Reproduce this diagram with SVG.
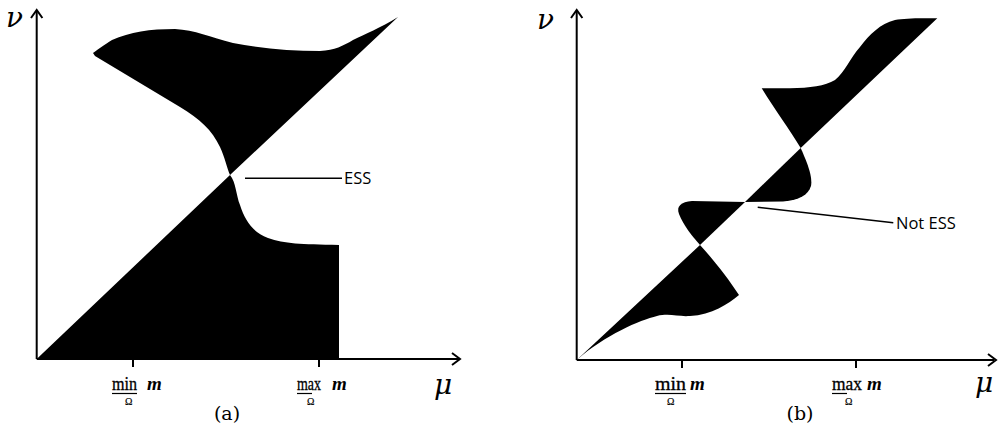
<svg xmlns="http://www.w3.org/2000/svg" width="998" height="424" viewBox="0 0 998 424">
<style>
.axis{stroke:#000;stroke-width:2;fill:none}
.arr{stroke:#000;stroke-width:2;fill:none;stroke-linejoin:miter}
.reg{fill:#000;stroke:none}
.lead{stroke:#000;stroke-width:1.5;fill:none}
.bar{stroke:#000;stroke-width:1.2}
.lbl{font-family:"Open Sans","Liberation Sans",sans-serif;font-size:16.5px;fill:#000}
.rm{font-family:"Liberation Serif","DejaVu Serif",serif;font-size:18px;fill:#000;stroke:#000;stroke-width:0.3}
.it{font-family:"Liberation Serif","DejaVu Serif",serif;font-size:19px;font-style:italic;font-weight:bold;fill:#000}
.sub{font-family:"Liberation Serif","DejaVu Serif",serif;font-size:10px;fill:#000;stroke:#000;stroke-width:0.2}
.greek{font-family:"DejaVu Serif","Liberation Serif",serif;font-size:28px;font-style:italic;fill:#000}
.cap{font-family:"DejaVu Serif","Liberation Serif",serif;font-size:19px;fill:#000}
</style>
<g id="panel-a">
  <g id="a-regions">
    <path class="reg" d="M36.7,359 L230,175 C236,182 236,195 240,205 C245,220 252,232 268,238 C285,244 300,244 339,245 L339,359 Z"/>
    <path class="reg" d="M230,175 L398,17 C380,28 365,34 353,40 C343,46 335,50 320,51 C290,51 260,48 233,43 C210,37 195,30 175,29 C150,29 130,32 112,40 C104,45 100,48 93,53 L95,56 L180,107 C200,119 212,130 220,147 C225,158 227,168 230,175 Z"/>
  </g>
  <g id="a-axes">
    <path class="axis" d="M36.7,359 V11 M36.7,359 H459"/>
    <path class="arr" d="M31,18 L36.7,10 L42.4,18"/>
    <path class="arr" d="M452,353 L460,359 L452,365"/>
    <path class="axis" d="M133,359 V367 M319,359 V367"/>
  </g>
  <g id="a-labels">
    <text class="greek" x="6" y="27">ν</text>
    <text class="greek" x="434" y="394">μ</text>
    <text class="rm" x="112" y="390" textLength="25" lengthAdjust="spacingAndGlyphs">min</text>
    <line class="bar" x1="112" y1="393.5" x2="137" y2="393.5"/>
    <text class="sub" x="125" y="405">Ω</text>
    <text class="it" x="147" y="390">m</text>
    <text class="rm" x="297" y="390" textLength="24" lengthAdjust="spacingAndGlyphs">max</text>
    <line class="bar" x1="297" y1="393.5" x2="312" y2="393.5"/>
    <text class="sub" x="307" y="405">Ω</text>
    <text class="it" x="332" y="390">m</text>
    <text class="cap" x="227" y="420" text-anchor="middle">(a)</text>
  </g>
  <g id="a-ess">
    <line class="lead" x1="245" y1="178.3" x2="342" y2="178.3"/>
    <text class="lbl" x="344" y="184">ESS</text>
  </g>
</g>
<g id="panel-b">
  <g id="b-regions">
    <path class="reg" d="M576.7,360 L700,245 C712,258 728,278 739,295 C728,304 712,315 690,316 C678,317 670,313 657,316 C640,320 605,335 576.7,360 Z"/>
    <path class="reg" d="M700,245 C692,236 684,226 679,214 C676,206 681,202 692,201 L745,202 Z"/>
    <path class="reg" d="M745,202 L783,201.5 C800,200 808,195 811,186 C813,176 806,160 800.7,148 Z"/>
    <path class="reg" d="M800.7,148 C790,130 775,110 761.7,88.3 L790,88.3 C810,88 825,86 835,80 C845,72 850,58 860,47 C870,34 880,24 895,20 C905,18 920,18 937.3,18.3 Z"/>
  </g>
  <g id="b-axes">
    <path class="axis" d="M576.7,360 V11 M576.7,360 H994"/>
    <path class="arr" d="M571,18 L576.7,10 L582.4,18"/>
    <path class="arr" d="M988,354 L996,360 L988,366"/>
    <path class="axis" d="M682,360 V368 M856,360 V368"/>
  </g>
  <g id="b-labels">
    <text class="greek" x="537" y="29">ν</text>
    <text class="greek" x="975" y="392">μ</text>
    <text class="rm" x="655" y="390" textLength="31" lengthAdjust="spacingAndGlyphs">min</text>
    <line class="bar" x1="655" y1="393.5" x2="686" y2="393.5"/>
    <text class="sub" x="667" y="405">Ω</text>
    <text class="it" x="690" y="390">m</text>
    <text class="rm" x="832" y="390" textLength="30" lengthAdjust="spacingAndGlyphs">max</text>
    <line class="bar" x1="832" y1="393.5" x2="847" y2="393.5"/>
    <text class="sub" x="845" y="405">Ω</text>
    <text class="it" x="867" y="390">m</text>
    <text class="cap" x="800" y="420" text-anchor="middle">(b)</text>
  </g>
  <g id="b-ness">
    <line class="lead" x1="757.7" y1="207.3" x2="893.3" y2="222.7"/>
    <text class="lbl" x="896" y="229">Not ESS</text>
  </g>
</g>
</svg>
